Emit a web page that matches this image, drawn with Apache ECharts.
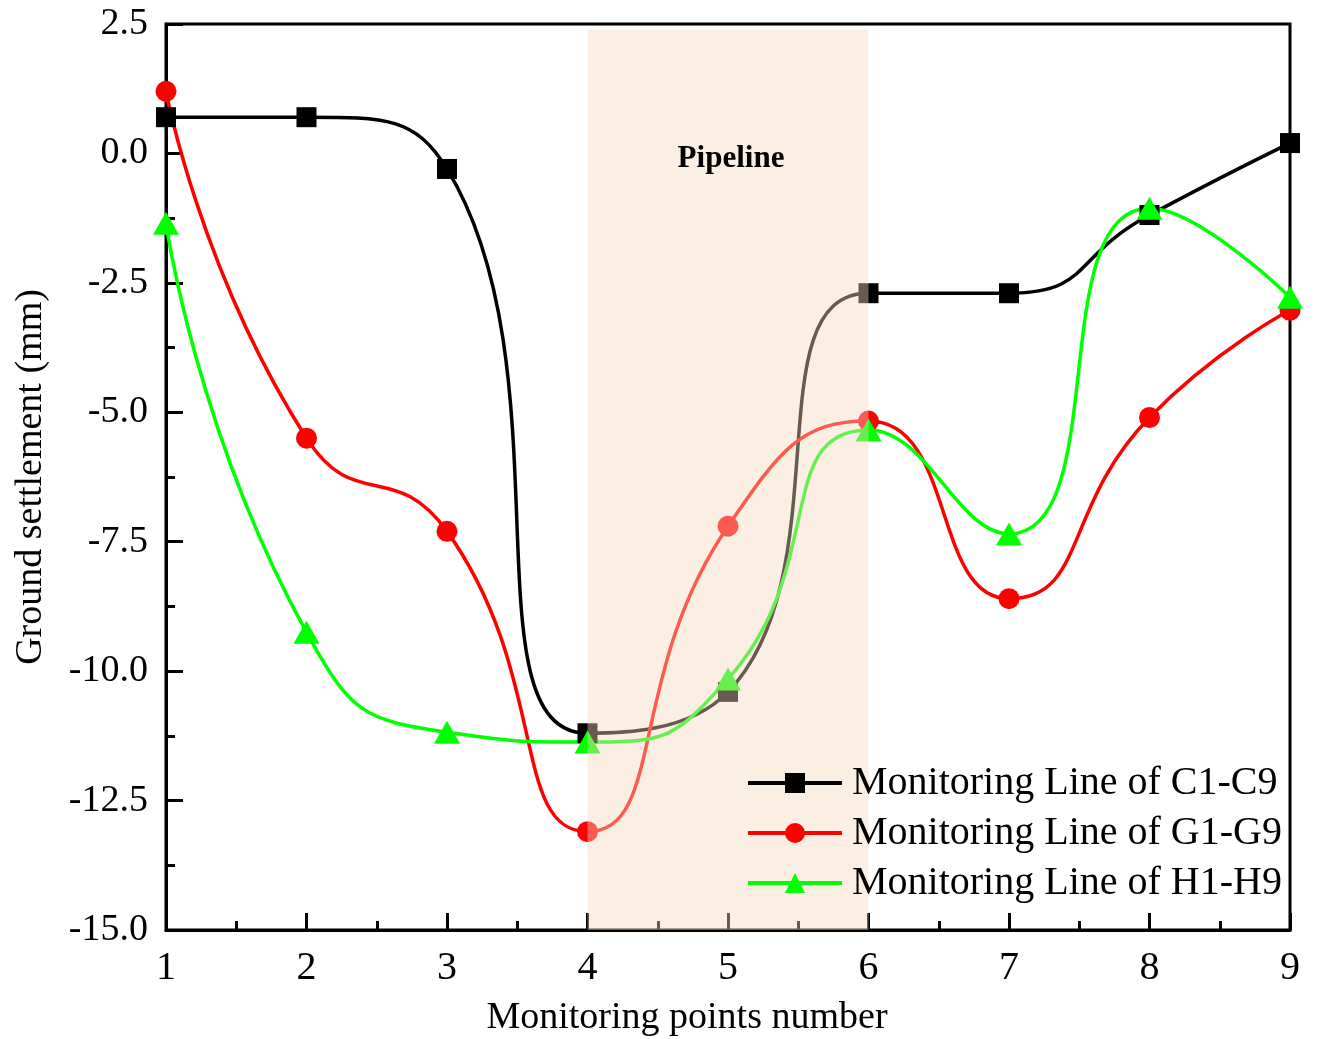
<!DOCTYPE html>
<html>
<head>
<meta charset="utf-8">
<script src="https://cdn.jsdelivr.net/npm/echarts@6/dist/echarts.min.js"></script>
<style>html,body{margin:0;padding:0;background:#fff;}#chart{width:1317px;height:1039px;}</style>
</head>
<body>
<div id="chart"></div>
<script>
// Monitoring points (x)
const points = [1, 2, 3, 4, 5, 6, 7, 8, 9];
// Ground settlement (mm)
const lineC = [0.70, 0.70, -0.30, -11.2, -10.4, -2.7, -2.7, -1.19, 0.20];
const lineG = [1.20, -5.5, -7.3, -13.1, -7.2, -5.17, -8.6, -5.1, -3.03];
const lineH = [-1.35, -9.25, -11.18, -11.37, -10.15, -5.34, -7.35, -1.06, -2.78];
const seriesNames = ['Monitoring Line of C1-C9', 'Monitoring Line of G1-G9', 'Monitoring Line of H1-H9'];
// Pipeline zone along x
const pipelineRange = [4, 6];
const pipelineTop = 2.4;
const yTicks = [2.5, 0, -2.5, -5, -7.5, -10, -12.5, -15];

const font = 'Liberation Serif';
const pair = (arr) => points.map((x, i) => [x, arr[i]]);

const chart = echarts.init(document.getElementById('chart'), null, {renderer: 'canvas'});
const option = {
  backgroundColor: '#fff',
  animation: false,
  grid: {left: 166, right: 27, top: 24, bottom: 109, containLabel: false, outerBoundsMode: 'none',
    show: true, borderColor: '#000', borderWidth: 3, backgroundColor: 'transparent'},
  xAxis: {
    type: 'value', min: 1, max: 9, interval: 1,
    name: 'Monitoring points number', nameLocation: 'middle', nameGap: 69,
    nameTextStyle: {fontFamily: font, fontSize: 38, color: '#000', padding: [0, 82, 0, 0]},
    axisLine: {show: true, onZero: false, lineStyle: {color: '#000', width: 3}},
    axisTick: {show: true, inside: true, length: 17, lineStyle: {color: '#000', width: 3}},
    minorTick: {show: true, splitNumber: 2, length: 9, lineStyle: {color: '#000', width: 3}},
    axisLabel: {fontFamily: font, fontSize: 40, color: '#000', margin: 18},
    splitLine: {show: false}
  },
  yAxis: {
    type: 'value', min: -15, max: 2.5, interval: 2.5,
    name: 'Ground settlement (mm)', nameLocation: 'middle', nameGap: 116,
    nameTextStyle: {fontFamily: font, fontSize: 38, color: '#000'},
    axisLine: {show: true, onZero: false, lineStyle: {color: '#000', width: 3}},
    axisTick: {show: true, inside: true, length: 17, lineStyle: {color: '#000', width: 3}},
    minorTick: {show: true, splitNumber: 2, length: 9, lineStyle: {color: '#000', width: 3}},
    axisLabel: {fontFamily: font, fontSize: 38, color: '#000', margin: 18,
      formatter: (v) => yTicks.indexOf(v) >= 0 ? v.toFixed(1) : ''},
    splitLine: {show: false}
  },
  legend: {
    orient: 'vertical', left: 741, top: 758,
    itemWidth: 94, itemHeight: 25, itemGap: 10,
    lineStyle: {width: 4},
    textStyle: {fontFamily: font, fontSize: 40, color: '#000', lineHeight: 40, padding: [0, 0, 0, 5]},
    data: seriesNames
  },
  series: [
    {
      name: seriesNames[0], type: 'line', data: pair(lineC), smooth: 0.55,
      symbol: 'rect', symbolSize: 20,
      lineStyle: {color: '#000', width: 3.5}, itemStyle: {color: '#000'}, z: 2
    },
    {
      name: seriesNames[1], type: 'line', data: pair(lineG), smooth: 0.55,
      symbol: 'circle', symbolSize: 21,
      lineStyle: {color: '#ff0000', width: 3.5}, itemStyle: {color: '#ff0000'}, z: 2
    },
    {
      name: seriesNames[2], type: 'line', data: pair(lineH), smooth: 0.55,
      symbol: 'triangle', symbolSize: [26, 23],
      lineStyle: {color: '#00ff00', width: 3.5}, itemStyle: {color: '#00ff00'}, z: 2
    },
    {
      name: 'pipeline', type: 'line', data: [], z: 3,
      markArea: {
        silent: true, z: 3,
        itemStyle: {color: 'rgba(245,216,190,0.42)'},
        label: {show: true, position: 'insideTop', distance: 114, offset: [3, 0], formatter: 'Pipeline',
          fontFamily: font, fontSize: 31, fontWeight: 'bold', color: '#000'},
        data: [[{xAxis: pipelineRange[0], yAxis: pipelineTop}, {xAxis: pipelineRange[1], yAxis: -15}]]
      }
    }
  ]
};
chart.setOption(option);
</script>
</body>
</html>
